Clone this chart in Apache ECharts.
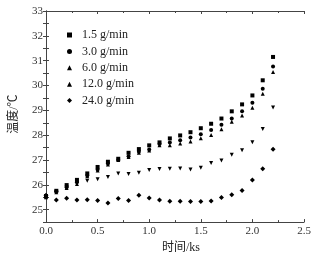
<!DOCTYPE html>
<html>
<head>
<meta charset="utf-8">
<script src="https://cdn.jsdelivr.net/npm/echarts@6/dist/echarts.min.js"></script>
<style>
  html, body { margin: 0; padding: 0; background: #fff; }
  #chart { width: 321px; height: 259px; }
</style>
</head>
<body>
<div id="chart"></div>
<script>
// time (ks)
const times = [0, 0.1, 0.2, 0.3, 0.4, 0.5, 0.6, 0.7, 0.8, 0.9, 1.0, 1.1,
  1.2, 1.3, 1.4, 1.5, 1.6, 1.7, 1.8, 1.9, 2.0, 2.1, 2.2];

// temperature (°C) for each flow rate
const temp15 = [25.55, 25.76, 25.99, 26.2, 26.46, 26.72, 26.93, 27.05, 27.29, 27.44, 27.59, 27.71,
  27.87, 27.99, 28.12, 28.28, 28.46, 28.67, 28.96, 29.24, 29.6, 30.21, 31.15];
const temp30 = [25.5, 25.74, 25.9, 26.1, 26.38, 26.62, 26.86, 27.0, 27.15, 27.33, 27.42, 27.64,
  27.71, 27.8, 27.91, 28.04, 28.21, 28.42, 28.67, 28.96, 29.31, 29.87, 30.77];
const temp60 = [25.5, 25.7, 25.87, 26.03, 26.35, 26.58, 26.82, 27.0, 27.12, 27.29, 27.38, 27.59,
  27.59, 27.66, 27.75, 27.88, 28.01, 28.24, 28.54, 28.79, 29.1, 29.67, 30.54];
const temp120 = [25.5, 25.7, 25.9, 26.05, 26.16, 26.23, 26.32, 26.46, 26.44, 26.49, 26.6, 26.64,
  26.65, 26.66, 26.62, 26.69, 26.88, 26.98, 27.21, 27.39, 27.72, 28.25, 29.11];
const temp240 = [25.58, 25.39, 25.46, 25.39, 25.4, 25.37, 25.27, 25.45, 25.37, 25.58, 25.47, 25.39,
  25.34, 25.34, 25.33, 25.33, 25.35, 25.49, 25.6, 25.77, 26.2, 26.65, 27.43];

const seriesNames = ["1.5 g/min", "3.0 g/min", "6.0 g/min", "12.0 g/min", "24.0 g/min"];
const seriesValues = [temp15, temp30, temp60, temp120, temp240];
const symbols = ["rect", "circle", "triangle", "triangle", "diamond"];
const rotations = [0, 0, 0, 180, 0];
const sizes = [4, 4, 4, 4, 5];

const font = "'Liberation Serif', 'Noto Sans CJK SC', serif";
const axisColor = "#444";

const chart = echarts.init(document.getElementById("chart"));

const series = seriesNames.map((name, i) => ({
  name: name,
  type: "scatter",
  symbol: symbols[i],
  symbolRotate: rotations[i],
  symbolSize: sizes[i],
  itemStyle: { color: "#000", opacity: 1 },
  data: times.map((t, j) => [t, seriesValues[i][j]]),
}));

const tickStyle = { inside: true, length: 3, lineStyle: { color: axisColor } };

chart.setOption({
  animation: false,
  grid: { left: 37, right: 17, top: 11, bottom: 35 },
  legend: {
    orient: "vertical",
    left: 62,
    top: 24,
    itemWidth: 5,
    itemHeight: 5,
    itemGap: 4.4,
    textStyle: { fontFamily: font, fontSize: 12, color: "#222", lineHeight: 12, padding: [0, 0, 0, 5] },
    data: seriesNames,
  },
  xAxis: [
    {
      type: "value",
      min: 0,
      max: 2.5,
      interval: 0.5,
      name: "时间/ks",
      nameLocation: "middle",
      nameGap: 18,
      nameTextStyle: { fontFamily: font, fontSize: 12, color: "#222", padding: [0, 0, 0, 12] },
      axisLine: { lineStyle: { color: axisColor } },
      axisTick: tickStyle,
      minorTick: { show: true, splitNumber: 2, length: 2, lineStyle: { color: axisColor } },
      splitLine: { show: false },
      axisLabel: {
        fontFamily: font, fontSize: 11, color: "#333", margin: 4,
        formatter: (v) => v.toFixed(1),
      },
    },
    {
      type: "value",
      position: "top",
      min: 0,
      max: 2.5,
      interval: 0.5,
      axisLine: { show: true, lineStyle: { color: axisColor } },
      axisTick: tickStyle,
      minorTick: { show: true, splitNumber: 2, length: 2, lineStyle: { color: axisColor } },
      splitLine: { show: false },
      axisLabel: { show: false },
    },
  ],
  yAxis: [
    {
      type: "value",
      min: 24.5,
      max: 33,
      interval: 0.5,
      name: "温度/℃",
      nameLocation: "middle",
      nameRotate: 90,
      nameGap: 26,
      nameTextStyle: { fontFamily: font, fontSize: 12, color: "#222", padding: [0, 0, 0, 5] },
      axisLine: { show: true, lineStyle: { color: axisColor } },
      axisTick: tickStyle,
      splitLine: { show: false },
      axisLabel: {
        fontFamily: font, fontSize: 11, color: "#333", margin: 3,
        formatter: (v) => (Number.isInteger(v) ? String(v) : ""),
      },
    },
    {
      type: "value",
      position: "right",
      min: 24.5,
      max: 33,
      interval: 0.5,
      axisLine: { show: true, lineStyle: { color: axisColor } },
      axisTick: tickStyle,
      splitLine: { show: false },
      axisLabel: { show: false },
    },
  ],
  series: series,
});
</script>
</body>
</html>
